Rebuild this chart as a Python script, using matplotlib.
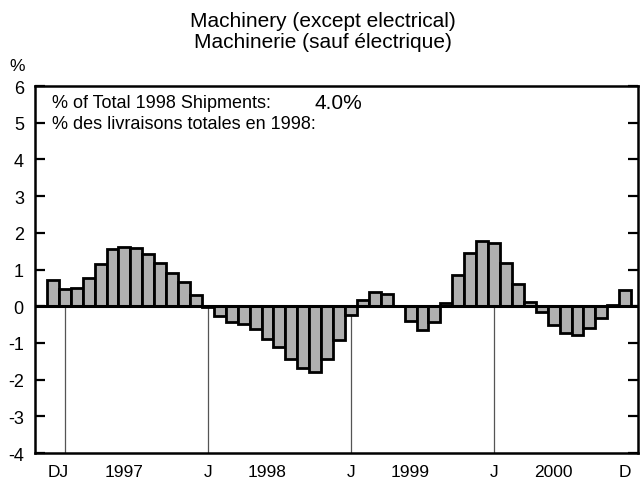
import matplotlib
matplotlib.use("Agg")
import matplotlib.pyplot as plt
import numpy as np

plt.rcParams["font.family"] = ["Liberation Sans", "DejaVu Sans"]

# monthly % change, Dec 1996 .. Dec 2000
months = list(range(49))
values = [0.71, 0.47, 0.49, 0.76, 1.15, 1.55, 1.62, 1.58, 1.42, 1.18, 0.91, 0.67, 0.31,
          -0.02, -0.27, -0.42, -0.48, -0.62, -0.89, -1.12, -1.44, -1.69, -1.78, -1.45, -0.91,
          -0.24, 0.18, 0.40, 0.33, 0.02, -0.39, -0.64, -0.44, 0.08, 0.84, 1.45, 1.79,
          1.73, 1.18, 0.62, 0.11, -0.16, -0.51, -0.73, -0.78, -0.60, -0.33, 0.03, 0.45]
jan_idx = [1, 13, 25, 37]
xlabel_pos = [0.45, 6, 13, 18, 25, 30, 37, 42, 48]
xlabel_txt = ["DJ", "1997", "J", "1998", "J", "1999", "J", "2000", "D"]
yticks = list(range(-4, 7))

fig = plt.figure(figsize=(6.44, 4.81), dpi=100)
ax = fig.add_axes([0.0543, 0.056, 0.936, 0.763])

for j in jan_idx:
    ax.plot([j, j], [-4, 0], color="#555555", lw=0.9, zorder=1)

ax.bar(months, values, width=1.0, color="#b0b0b0", edgecolor="black",
       linewidth=2, zorder=2)
ax.axhline(0, color="black", lw=2.2, zorder=3)

ax.set_xlim(-1.5, 49.05)
ax.set_ylim(-4, 6)
ax.set_yticks(yticks)
ax.set_yticklabels([str(t) for t in yticks], fontsize=13)
ax.tick_params(axis="y", direction="in", length=7, width=1.6, pad=8,
               right=True)
ax.set_xticks(xlabel_pos)
ax.set_xticklabels(xlabel_txt, fontsize=12.5)
ax.tick_params(axis="x", length=0, pad=8)
for s in ax.spines.values():
    s.set_linewidth(1.8)

fig.text(0.502, 0.955, "Machinery (except electrical)", ha="center", va="center", fontsize=15)
fig.text(0.502, 0.911, "Machinerie (sauf électrique)", ha="center", va="center", fontsize=15)
fig.text(0.027, 0.862, "%", ha="center", va="center", fontsize=12.5)

ax.text(0.028, 0.955, "% of Total 1998 Shipments:", transform=ax.transAxes,
        ha="left", va="center", fontsize=13)
ax.text(0.464, 0.955, "4.0%", transform=ax.transAxes,
        ha="left", va="center", fontsize=15)
ax.text(0.028, 0.899, "% des livraisons totales en 1998:", transform=ax.transAxes,
        ha="left", va="center", fontsize=13)

fig.savefig("out.png", dpi=100)
